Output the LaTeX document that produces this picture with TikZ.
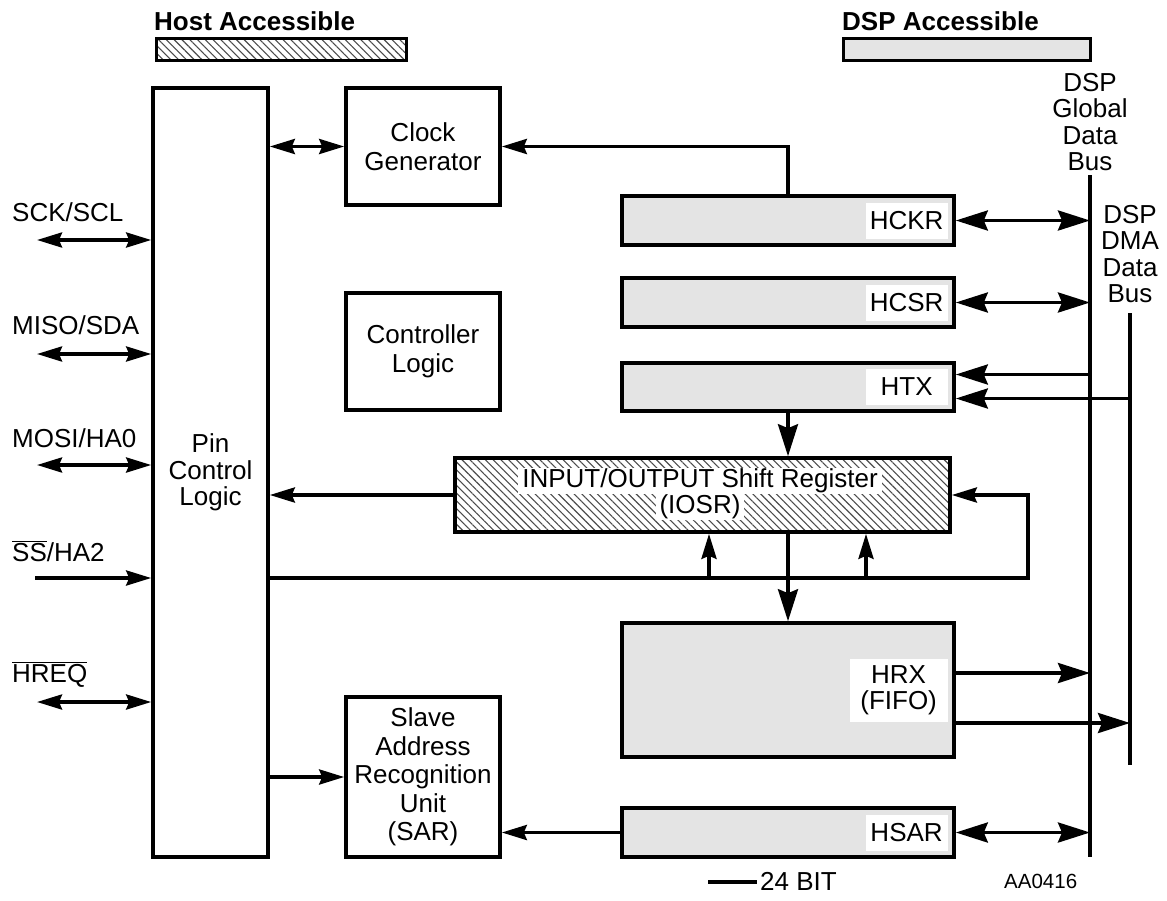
\documentclass[tikz,border=0pt]{standalone}
\usepackage{fontspec}
\setmainfont{Liberation Sans}
\usetikzlibrary{arrows.meta,patterns.meta}
\definecolor{regfill}{HTML}{E4E4E4}
\newcommand\dgfont{\fontsize{26}{26.5}\selectfont}
\newcommand\ovl[1]{$\overline{\hbox{#1}}$}
\begin{document}
\begin{tikzpicture}[x=1pt,y=-1pt,
  every node/.style={inner sep=0pt, font=\dgfont},
  box/.style={draw, line width=3.6pt, align=center},
  reg/.style={box, fill=regfill},
  hatch/.style={pattern={Lines[angle=-45,distance=5.5pt,line width=1.1pt]}, pattern color=black!70},
  tag/.style={fill=white, align=center, minimum width=82pt, minimum height=36pt, anchor=east},
  wide/.style={font=\fontsize{26}{28.5}\selectfont},
  wire/.style={line width=3.6pt},
  sa/.style={wire, -{Stealth[length=25pt,width=15pt,inset=3pt]}},
  dsa/.style={wire, {Stealth[length=25pt,width=15pt,inset=3pt]}-{Stealth[length=25pt,width=15pt,inset=3pt]}},
  ba/.style={wire, -{Stealth[length=32pt,width=20pt,inset=4pt]}},
  dba/.style={wire, {Stealth[length=32pt,width=20pt,inset=4pt]}-{Stealth[length=32pt,width=20pt,inset=4pt]}},
  bus/.style={line width=4pt},
]
\useasboundingbox (0,0) rectangle (1167,900);

% legends
\node[anchor=base west, font=\dgfont\bfseries] (hostt) at (154,30) {Host Accessible};
\node[box, hatch, minimum width=250pt, minimum height=22pt] (hostbox) at (281.5,49.5) {};
\node[anchor=base west, font=\dgfont\bfseries] (dspt) at (842,30) {DSP Accessible};
\node[box, fill=regfill, minimum width=247pt, minimum height=22pt] (dspbox) at (967,49.5) {};

% blocks
\node[box, minimum width=115pt, minimum height=769pt] (pin) at (210.5,472.5) {Pin\\Control\\Logic};
\node[box, wide, minimum width=154pt, minimum height=117pt] (clk) at (423,146.5) {Clock\\Generator};
\node[box, wide, minimum width=154pt, minimum height=117pt] (ctl) at (423,351.5) {Controller\\Logic};
\node[box, wide, minimum width=154pt, minimum height=160pt] (sar) at (423,777) {Slave\\Address\\Recognition\\Unit\\(SAR)};

\node[reg, minimum width=332pt, minimum height=49pt] (hckr) at (788,220.5) {};
\node[reg, minimum width=332pt, minimum height=49pt] (hcsr) at (788,302.5) {};
\node[reg, minimum width=332pt, minimum height=48pt] (htx) at (788,387) {};
\node[box, hatch, minimum width=495pt, minimum height=74pt] (iosr) at (702.5,495) {};
\node[reg, minimum width=332pt, minimum height=134pt] (hrx) at (788,690) {};
\node[reg, minimum width=332pt, minimum height=49pt] (hsar) at (788,832.5) {};

\node[tag] (hckrt) at ([xshift=-8pt]hckr.east) {HCKR};
\node[tag] (hcsrt) at ([xshift=-8pt]hcsr.east) {HCSR};
\node[tag] (htxt) at ([xshift=-8pt]htx.east) {HTX};
\node[tag, minimum width=98pt, minimum height=63pt] (hrxt) at ([xshift=-8pt]hrx.east) {HRX\\(FIFO)};
\node[tag] (hsart) at ([xshift=-8pt]hsar.east) {HSAR};

\node[fill=white, inner xsep=4pt, minimum height=26pt] (iosrt1) at (700,481) {INPUT/OUTPUT Shift Register};
\node[fill=white, inner xsep=4pt, minimum height=26pt] (iosrt2) at (700,507) {(IOSR)};

% buses
\coordinate (gtop) at (1090,175);
\coordinate (gbot) at (1090,857);
\coordinate (dtop) at (1130,313);
\coordinate (dbot) at (1130,765);
\draw[bus] (gtop) -- (gbot);
\draw[bus] (dtop) -- (dbot);
\node[align=center] (glbl) at (1090,122) {DSP\\Global\\Data\\Bus};
\node[align=center] (dlbl) at (1130,254) {DSP\\DMA\\Data\\Bus};

% pins
\node[anchor=base west] (lsck) at (12,221) {SCK/SCL};
\node[anchor=base west] (lmiso) at (12,334) {MISO/SDA};
\node[anchor=base west] (lmosi) at (12,447) {MOSI/HA0};
\node[anchor=base west] (lss) at (12,561) {\ovl{SS}/HA2};
\node[anchor=base west] (lhreq) at (12,682) {\ovl{HREQ}};
\coordinate (psck) at (37,240);
\coordinate (pmiso) at (37,354);
\coordinate (pmosi) at (37,465);
\coordinate (pss) at (35,578);
\coordinate (phreq) at (37,702);
\draw[dsa] (psck) -- (psck -| pin.west);
\draw[dsa] (pmiso) -- (pmiso -| pin.west);
\draw[dsa] (pmosi) -- (pmosi -| pin.west);
\draw[sa] (pss) -- (pss -| pin.west);
\draw[dsa] (phreq) -- (phreq -| pin.west);

% internal connectors
\draw[dsa] (clk.west) -- (clk.west -| pin.east);
\draw[sa] (hckr.north) -- (hckr.north |- clk.east) -- (clk.east);
\draw[sa] (iosr.west) -- (iosr.west -| pin.east);
\coordinate (loopc) at (1028,578);
\draw[sa] (pin.east |- loopc) -- (loopc) -- (loopc |- iosr.east) -- (iosr.east);
\coordinate (up1) at (709,578);
\coordinate (up2) at (866,578);
\draw[sa] (up1) -- (up1 |- iosr.south);
\draw[sa] (up2) -- (up2 |- iosr.south);
\draw[ba] (htx.south) -- (htx.south |- iosr.north);
\draw[ba] (htx.south |- iosr.south) -- (hrx.north);
\draw[sa] (pin.east |- sar.west) -- (sar.west);
\draw[sa] (hsar.west) -- (sar.east |- hsar.west);

% register to bus
\draw[dba] (hckr.east) -- (hckr.east -| gtop);
\draw[dba] (hcsr.east) -- (hcsr.east -| gtop);
\draw[dba] (hsar.east) -- (hsar.east -| gtop);
\coordinate (htxa) at ([yshift=12.5pt]htx.east);
\coordinate (htxb) at ([yshift=-11.5pt]htx.east);
\draw[ba] (htxa -| gtop) -- (htxa);
\draw[ba] (htxb -| dtop) -- (htxb);
\coordinate (hrxa) at ([yshift=17pt]hrx.east);
\coordinate (hrxb) at ([yshift=-33pt]hrx.east);
\draw[ba] (hrxa) -- (hrxa -| gtop);
\draw[ba] (hrxb) -- (hrxb -| dtop);

% footer
\coordinate (bitl) at (708,882);
\coordinate (bitr) at (757,882);
\draw[line width=4pt] (bitl) -- (bitr);
\node[anchor=base west] (bitt) at (760,890) {24 BIT};
\node[anchor=base west, font=\fontsize{20.5}{22}\selectfont] (code) at (1004,888) {AA0416};
\end{tikzpicture}
\end{document}
